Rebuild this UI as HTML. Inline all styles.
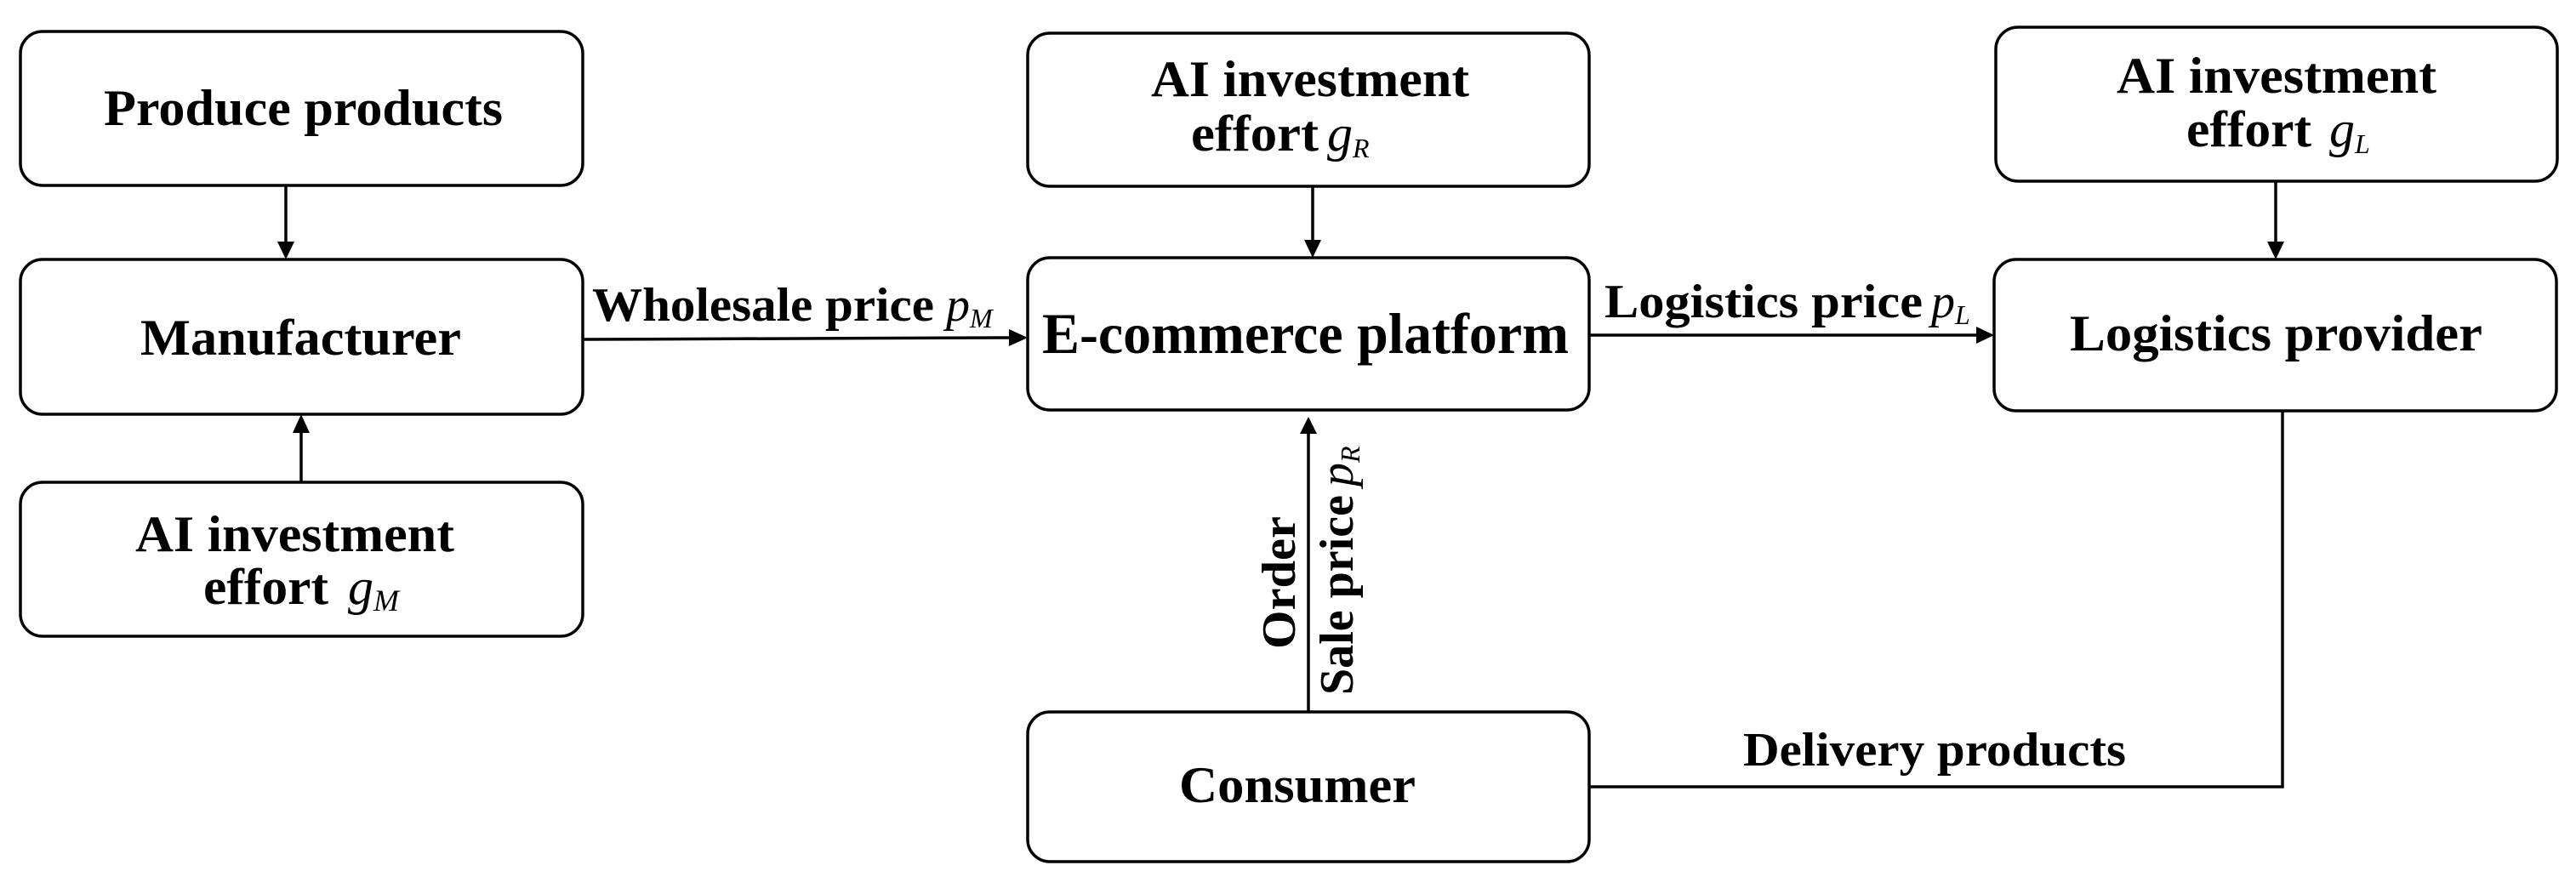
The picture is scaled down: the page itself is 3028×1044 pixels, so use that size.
<!DOCTYPE html>
<html><head><meta charset="utf-8"><style>
html,body{margin:0;padding:0;background:#fff;}
svg{display:block;}
text{font-family:"Liberation Serif",serif;font-weight:bold;fill:#000;}
.i{font-style:italic;font-weight:normal;}
</style></head><body>
<svg width="3028" height="1044" viewBox="0 0 3028 1044" xmlns="http://www.w3.org/2000/svg">
<g fill="none" stroke="#000" stroke-width="3.5">
<rect x="24" y="37" width="661" height="181" rx="26"/>
<rect x="24" y="305" width="661" height="182" rx="26"/>
<rect x="24" y="567" width="661" height="181" rx="26"/>
<rect x="1208" y="39" width="660" height="180" rx="26"/>
<rect x="1208" y="303" width="660" height="179" rx="26"/>
<rect x="1208" y="837" width="660" height="176" rx="26"/>
<rect x="2346" y="32" width="660" height="181" rx="26"/>
<rect x="2344" y="305" width="661" height="178" rx="26"/>
<line x1="336" y1="218" x2="336" y2="288"/>
<line x1="354" y1="567" x2="354" y2="505"/>
<line x1="685" y1="399" x2="1188" y2="397"/>
<line x1="1543" y1="219" x2="1543" y2="285"/>
<line x1="1868" y1="394" x2="2325" y2="394"/>
<line x1="2675" y1="213" x2="2675" y2="286"/>
<line x1="1538" y1="837" x2="1538" y2="508"/>
<polyline points="1868,925 2683,925 2683,483"/>
</g>
<g fill="#000">
<polygon points="326,284 346,284 336,305"/>
<polygon points="344,509 364,509 354,487"/>
<polygon points="1186,387 1186,407 1208,397"/>
<polygon points="1533,282 1553,282 1543,303"/>
<polygon points="2323,384 2323,404 2344,394"/>
<polygon points="2665,284 2685,284 2675,305"/>
<polygon points="1528,510 1548,510 1538,490"/>
</g>
<text x="122" y="147" font-size="60" textLength="469" lengthAdjust="spacingAndGlyphs">Produce products</text>
<text x="165" y="417" font-size="60" textLength="377" lengthAdjust="spacingAndGlyphs">Manufacturer</text>
<text x="159" y="648" font-size="60" textLength="375" lengthAdjust="spacingAndGlyphs">AI investment</text>
<text x="239" y="710" font-size="60" textLength="147" lengthAdjust="spacingAndGlyphs">effort</text>
<text x="409" y="710" font-size="60" class="i">g<tspan font-size="36" dy="8">M</tspan></text>
<text x="696" y="377" font-size="56" textLength="402" lengthAdjust="spacingAndGlyphs">Wholesale price</text>
<text x="1112" y="377" font-size="56" class="i">p<tspan font-size="32" dy="8">M</tspan></text>
<text x="1225" y="415" font-size="68" textLength="619" lengthAdjust="spacingAndGlyphs">E-commerce platform</text>
<text x="1353" y="113" font-size="60" textLength="374" lengthAdjust="spacingAndGlyphs">AI investment</text>
<text x="1400" y="177" font-size="60" textLength="150" lengthAdjust="spacingAndGlyphs">effort</text>
<text x="1560" y="177" font-size="60" class="i">g<tspan font-size="32" dy="8">R</tspan></text>
<text x="1886" y="373" font-size="56" textLength="374" lengthAdjust="spacingAndGlyphs">Logistics price</text>
<text x="2270" y="373" font-size="56" class="i">p<tspan font-size="32" dy="8">L</tspan></text>
<text x="2488" y="109" font-size="60" textLength="376" lengthAdjust="spacingAndGlyphs">AI investment</text>
<text x="2570" y="172" font-size="60" textLength="147" lengthAdjust="spacingAndGlyphs">effort</text>
<text x="2738" y="172" font-size="60" class="i">g<tspan font-size="32" dy="8">L</tspan></text>
<text x="2433" y="412" font-size="60" textLength="485" lengthAdjust="spacingAndGlyphs">Logistics provider</text>
<text x="1386" y="943" font-size="60" textLength="278" lengthAdjust="spacingAndGlyphs">Consumer</text>
<text x="2049" y="900" font-size="56" textLength="450" lengthAdjust="spacingAndGlyphs">Delivery products</text>
<text transform="translate(1522,763) rotate(-90)" font-size="56" textLength="156" lengthAdjust="spacingAndGlyphs">Order</text>
<text transform="translate(1590,817) rotate(-90)" font-size="56"><tspan textLength="235" lengthAdjust="spacingAndGlyphs">Sale price</tspan><tspan class="i" dx="10">p</tspan><tspan class="i" font-size="32" dy="8">R</tspan></text>
</svg>
</body></html>
